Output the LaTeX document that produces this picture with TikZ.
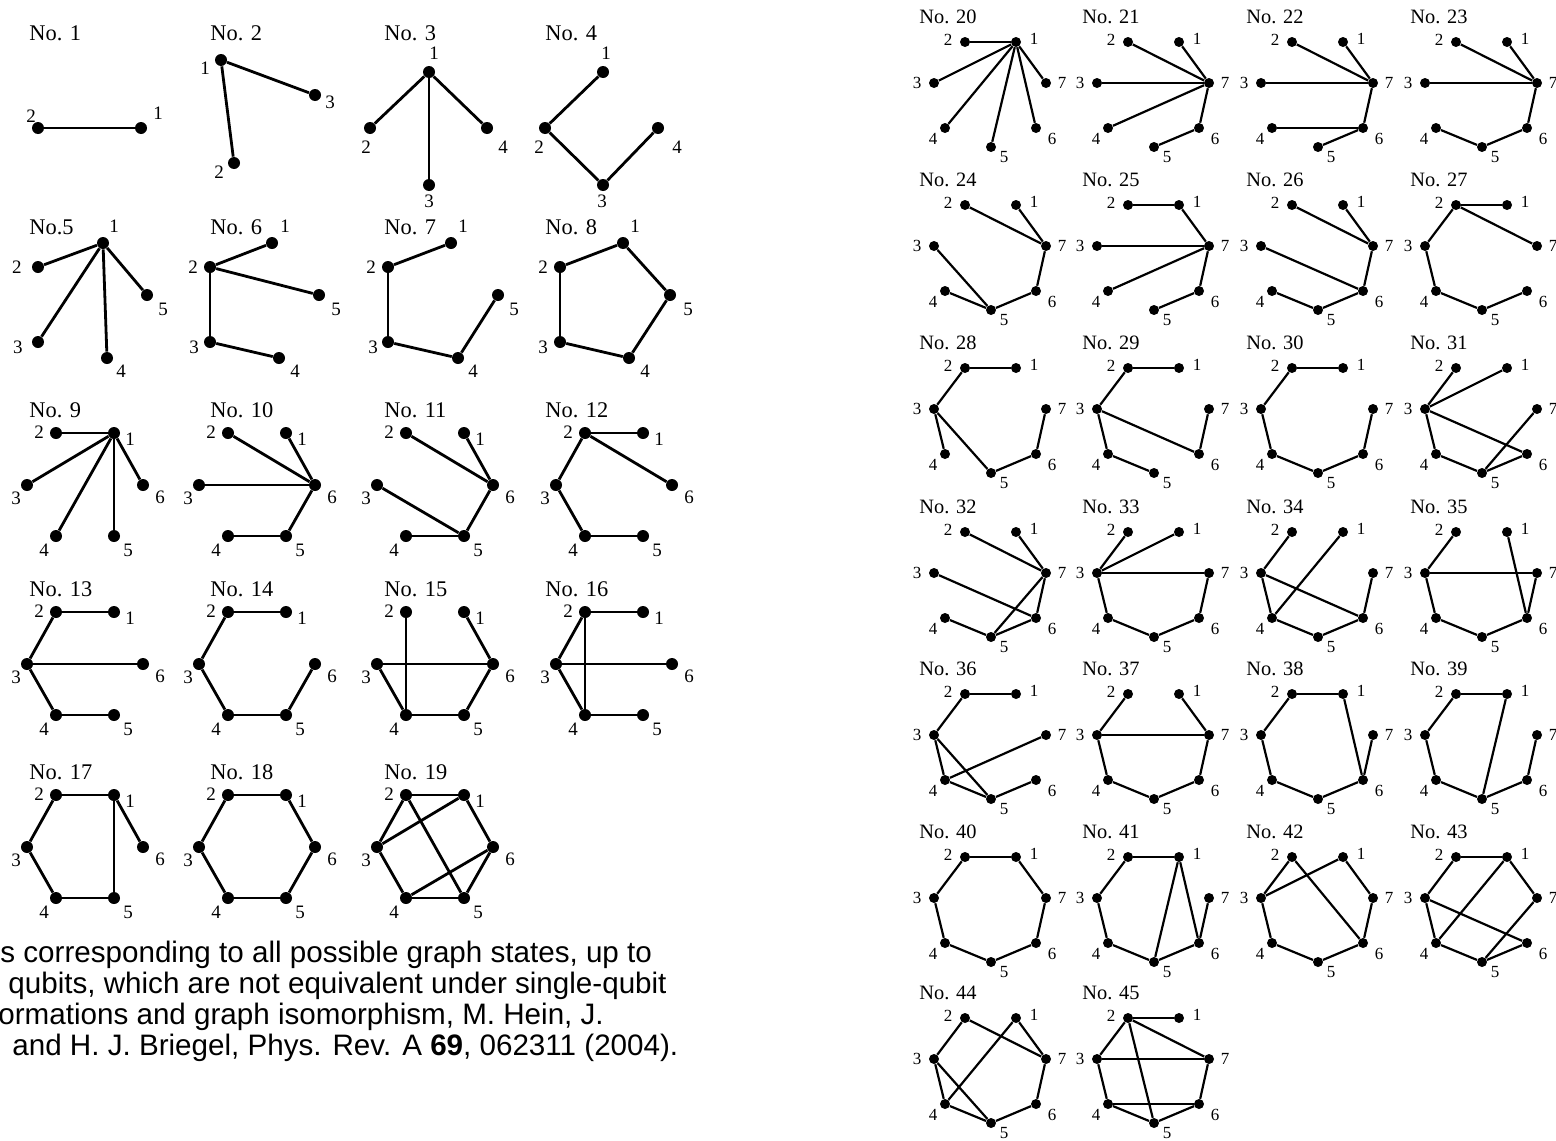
\documentclass[tikz,border=0pt]{standalone}
\usepackage{fontspec}
\setmainfont{Liberation Serif}
\newfontfamily\capfont{Liberation Sans}

\tikzset{
  dotL/.style={circle, fill=black, inner sep=0pt, minimum size=6pt},
  dotR/.style={circle, fill=black, inner sep=0pt, minimum size=5pt},
  linkL/.style={line width=1.4pt},
  linkR/.style={line width=1.1pt},
  numL/.style={inner sep=0pt, font=\fontsize{9.5}{9.5}\selectfont},
  numR/.style={inner sep=0pt, font=\fontsize{8.5}{8.5}\selectfont},
  titleL/.style={anchor=west, inner sep=0pt, font=\fontsize{11.2}{11.2}\selectfont},
  titleR/.style={anchor=west, inner sep=0pt, font=\fontsize{10.2}{10.2}\selectfont},
  capline/.style={anchor=base west, inner sep=0pt,
    font=\capfont\fontsize{14.8}{14.8}\selectfont}
}

% one vertex of the small graphs, with its number
\newcommand{\vtxL}[6]{%
  \node[dotL] (#1) at (#2,#3) {};
  \node[numL] (#1n) at (#5,#6) {#4};}

% six vertices on a hexagon: name, x of vertex 3, y of top row, title x, title
\newcommand{\hexG}[5]{%
  \node[titleL] (#1-no) at (#4,{#3-23}) {#5};
  \node[dotL] (#1-2) at ({#2+29},{#3}) {};
  \node[dotL] (#1-1) at ({#2+87},{#3}) {};
  \node[dotL] (#1-3) at ({#2},{#3+52}) {};
  \node[dotL] (#1-6) at ({#2+116},{#3+52}) {};
  \node[dotL] (#1-4) at ({#2+29},{#3+103}) {};
  \node[dotL] (#1-5) at ({#2+87},{#3+103}) {};
  \node[numL] (#1-n2) at ({#2+12},{#3-1}) {2};
  \node[numL] (#1-n1) at ({#2+103},{#3+6}) {1};
  \node[numL] (#1-n3) at ({#2-11},{#3+65}) {3};
  \node[numL] (#1-n6) at ({#2+133},{#3+64}) {6};
  \node[numL] (#1-n4) at ({#2+17},{#3+117}) {4};
  \node[numL] (#1-n5) at ({#2+101},{#3+117}) {5};}

% seven vertices: name, x of vertex 3, y of top row, title
\newcommand{\heptG}[4]{%
  \node[titleR] (#1-no) at ({#2-15},{#3-25}) {#4};
  \node[dotR] (#1-2) at ({#2+31},{#3}) {};
  \node[dotR] (#1-1) at ({#2+82},{#3}) {};
  \node[dotR] (#1-3) at ({#2},{#3+41}) {};
  \node[dotR] (#1-7) at ({#2+112},{#3+41}) {};
  \node[dotR] (#1-4) at ({#2+11},{#3+86}) {};
  \node[dotR] (#1-6) at ({#2+102},{#3+86}) {};
  \node[dotR] (#1-5) at ({#2+57},{#3+105}) {};
  \node[numR] (#1-n2) at ({#2+14},{#3-2}) {2};
  \node[numR] (#1-n1) at ({#2+100},{#3-3}) {1};
  \node[numR] (#1-n3) at ({#2-17},{#3+41}) {3};
  \node[numR] (#1-n7) at ({#2+128},{#3+41}) {7};
  \node[numR] (#1-n4) at ({#2-1},{#3+97}) {4};
  \node[numR] (#1-n6) at ({#2+118},{#3+97}) {6};
  \node[numR] (#1-n5) at ({#2+70},{#3+115}) {5};}

% edges of one graph
\newcommand{\links}[3]{\foreach \a/\b in {#3} \draw[#2] (#1-\a) -- (#1-\b);}

\begin{document}
\begin{tikzpicture}[x=0.5pt, y=-0.5pt]
    \useasboundingbox (0,0) rectangle (1556,1140);
    \fill[white] (0,0) rectangle (1556,1140);
    \clip (0,0) rectangle (1556,1140);

    % Two to five qubits
    \node[titleL] (g1-no) at (29,33) {No. 1};
    \vtxL{g1-2}{38}{128}{2}{31}{116}
    \vtxL{g1-1}{141}{128}{1}{158}{113}
    \links{g1}{linkL}{1/2}

    \node[titleL] (g2-no) at (210,33) {No. 2};
    \vtxL{g2-1}{221}{60}{1}{205}{68}
    \vtxL{g2-3}{315}{95}{3}{330}{102}
    \vtxL{g2-2}{234}{163}{2}{219}{172}
    \links{g2}{linkL}{1/3,1/2}

    \node[titleL] (g3-no) at (384,33) {No. 3};
    \vtxL{g3-1}{429}{72}{1}{434}{53}
    \vtxL{g3-2}{370}{128}{2}{366}{147}
    \vtxL{g3-4}{487}{128}{4}{503}{147}
    \vtxL{g3-3}{429}{185}{3}{429}{201}
    \links{g3}{linkL}{1/2,1/3,1/4}

    \node[titleL] (g4-no) at (545,33) {No. 4};
    \vtxL{g4-1}{603}{72}{1}{606}{53}
    \vtxL{g4-2}{545}{128}{2}{539}{147}
    \vtxL{g4-4}{658}{128}{4}{677}{147}
    \vtxL{g4-3}{603}{185}{3}{602}{201}
    \links{g4}{linkL}{1/2,2/3,3/4}

    \node[titleL] (g5-no) at (29,227) {No.5};
    \vtxL{g5-1}{103}{243}{1}{114}{226}
    \vtxL{g5-2}{38}{267}{2}{17}{267}
    \vtxL{g5-5}{147}{295}{5}{163}{309}
    \vtxL{g5-3}{38}{342}{3}{18}{347}
    \vtxL{g5-4}{107}{358}{4}{121}{371}
    \links{g5}{linkL}{1/2,1/3,1/4,1/5}

    \node[titleL] (g6-no) at (210,227) {No. 6};
    \vtxL{g6-1}{272}{243}{1}{285}{226}
    \vtxL{g6-2}{210}{267}{2}{193}{267}
    \vtxL{g6-5}{319}{295}{5}{336}{309}
    \vtxL{g6-3}{210}{342}{3}{194}{347}
    \vtxL{g6-4}{279}{358}{4}{295}{371}
    \links{g6}{linkL}{2/1,2/5,2/3,3/4}

    \node[titleL] (g7-no) at (384,227) {No. 7};
    \vtxL{g7-1}{451}{243}{1}{463}{226}
    \vtxL{g7-2}{388}{267}{2}{371}{267}
    \vtxL{g7-5}{498}{295}{5}{514}{309}
    \vtxL{g7-3}{388}{342}{3}{373}{347}
    \vtxL{g7-4}{458}{358}{4}{473}{371}
    \links{g7}{linkL}{2/1,2/3,3/4,4/5}

    \node[titleL] (g8-no) at (545,227) {No. 8};
    \vtxL{g8-1}{623}{243}{1}{635}{226}
    \vtxL{g8-2}{560}{267}{2}{543}{267}
    \vtxL{g8-5}{670}{295}{5}{688}{309}
    \vtxL{g8-3}{560}{342}{3}{543}{347}
    \vtxL{g8-4}{629}{358}{4}{645}{371}
    \links{g8}{linkL}{1/2,2/3,3/4,4/5,5/1}

    % Six qubits
    \hexG{g9}{27}{433}{29}{No. 9}
    \links{g9}{linkL}{1/2,1/3,1/4,1/5,1/6}
    \hexG{g10}{199}{433}{210}{No. 10}
    \links{g10}{linkL}{6/2,6/1,6/3,6/5,5/4}
    \hexG{g11}{377}{433}{384}{No. 11}
    \links{g11}{linkL}{6/2,6/1,6/5,5/3,5/4}
    \hexG{g12}{556}{433}{545}{No. 12}
    \links{g12}{linkL}{2/1,2/6,2/3,3/4,4/5}

    \hexG{g13}{27}{612}{29}{No. 13}
    \links{g13}{linkL}{2/1,2/3,3/6,3/4,4/5}
    \hexG{g14}{199}{612}{210}{No. 14}
    \links{g14}{linkL}{2/1,2/3,3/4,4/5,5/6}
    \hexG{g15}{377}{612}{384}{No. 15}
    \links{g15}{linkL}{2/4,1/6,3/6,3/4,4/5,5/6}
    \hexG{g16}{556}{612}{545}{No. 16}
    \links{g16}{linkL}{2/1,2/3,2/4,3/6,3/4,4/5}

    \hexG{g17}{27}{795}{29}{No. 17}
    \links{g17}{linkL}{2/1,2/3,3/4,4/5,5/1,1/6}
    \hexG{g18}{199}{795}{210}{No. 18}
    \links{g18}{linkL}{2/1,1/6,6/5,5/4,4/3,3/2}
    \hexG{g19}{377}{795}{384}{No. 19}
    \links{g19}{linkL}{2/1,2/3,2/5,1/3,1/6,3/4,4/6,4/5,5/6}

    % Caption (cut at the left edge)
    \node[capline] (cap1) at (0,962) {s corresponding to all possible graph states, up to};
    \node[capline] (cap2) at (8,993) {qubits, which are not equivalent under single-qubit};
    \node[capline] (cap3) at (-2,1024) {ormations and graph isomorphism, M. Hein, J.};
    \node[capline] (cap4) at (12,1055) {and H. J. Briegel, Phys. Rev. A \textbf{69}, 062311 (2004).};

    % Seven qubits
    \heptG{g20}{934}{42}{No. 20}
    \links{g20}{linkR}{1/2,1/3,1/4,1/5,1/6,1/7}
    \heptG{g21}{1097}{42}{No. 21}
    \links{g21}{linkR}{7/2,7/1,7/3,7/4,7/6,6/5}
    \heptG{g22}{1261}{42}{No. 22}
    \links{g22}{linkR}{7/2,7/1,7/3,7/6,6/4,6/5}
    \heptG{g23}{1425}{42}{No. 23}
    \links{g23}{linkR}{7/2,7/1,7/3,7/6,6/5,5/4}

    \heptG{g24}{934}{205}{No. 24}
    \links{g24}{linkR}{7/2,7/1,7/6,6/5,5/3,5/4}
    \heptG{g25}{1097}{205}{No. 25}
    \links{g25}{linkR}{2/1,1/7,7/3,7/4,7/6,6/5}
    \heptG{g26}{1261}{205}{No. 26}
    \links{g26}{linkR}{7/2,7/1,7/6,6/3,6/5,5/4}
    \heptG{g27}{1425}{205}{No. 27}
    \links{g27}{linkR}{2/1,2/7,2/3,3/4,4/5,5/6}

    \heptG{g28}{934}{368}{No. 28}
    \links{g28}{linkR}{2/1,2/3,3/4,3/5,5/6,6/7}
    \heptG{g29}{1097}{368}{No. 29}
    \links{g29}{linkR}{2/1,2/3,3/4,3/6,4/5,6/7}
    \heptG{g30}{1261}{368}{No. 30}
    \links{g30}{linkR}{2/1,2/3,3/4,4/5,5/6,6/7}
    \heptG{g31}{1425}{368}{No. 31}
    \links{g31}{linkR}{3/2,3/1,3/4,3/6,4/5,5/6,5/7}

    \heptG{g32}{934}{532}{No. 32}
    \links{g32}{linkR}{7/2,7/1,7/6,7/5,3/6,6/5,5/4}
    \heptG{g33}{1097}{532}{No. 33}
    \links{g33}{linkR}{3/2,3/1,3/7,3/4,4/5,5/6,6/7}
    \heptG{g34}{1261}{532}{No. 34}
    \links{g34}{linkR}{3/2,3/4,3/6,4/1,4/5,5/6,6/7}
    \heptG{g35}{1425}{532}{No. 35}
    \links{g35}{linkR}{3/2,3/7,3/4,4/5,5/6,6/7,6/1}

    \heptG{g36}{934}{694}{No. 36}
    \links{g36}{linkR}{2/1,2/3,3/4,3/5,4/7,4/5,5/6}
    \heptG{g37}{1097}{694}{No. 37}
    \links{g37}{linkR}{3/2,3/7,3/4,7/1,7/6,6/5,5/4}
    \heptG{g38}{1261}{694}{No. 38}
    \links{g38}{linkR}{2/1,2/3,3/4,4/5,5/6,6/1,6/7}
    \heptG{g39}{1425}{694}{No. 39}
    \links{g39}{linkR}{2/1,2/3,3/4,4/5,5/1,5/6,6/7}

    \heptG{g40}{934}{857}{No. 40}
    \links{g40}{linkR}{2/1,1/7,7/6,6/5,5/4,4/3,3/2}
    \heptG{g41}{1097}{857}{No. 41}
    \links{g41}{linkR}{2/1,2/3,3/4,4/5,5/1,1/6,5/6,6/7}
    \heptG{g42}{1261}{857}{No. 42}
    \links{g42}{linkR}{2/3,2/6,1/3,1/7,7/6,6/5,5/4,4/3}
    \heptG{g43}{1425}{857}{No. 43}
    \links{g43}{linkR}{2/1,2/3,1/4,1/7,7/5,3/4,3/6,4/5,5/6}

    \heptG{g44}{934}{1018}{No. 44}
    \links{g44}{linkR}{2/3,2/7,1/4,1/7,3/4,3/5,4/5,5/6,6/7}
    \heptG{g45}{1097}{1018}{No. 45}
    \links{g45}{linkR}{2/1,2/3,2/7,2/5,3/7,3/4,4/6,4/5,5/6,6/7}
\end{tikzpicture}
\end{document}
